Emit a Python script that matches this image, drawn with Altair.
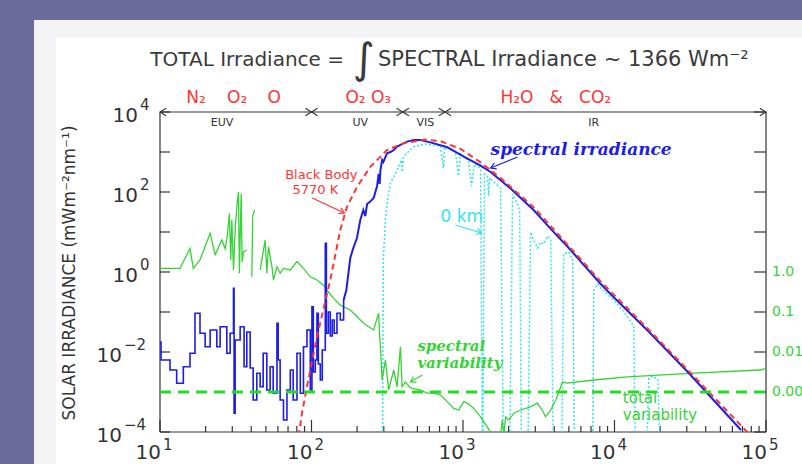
import altair as alt
import pandas as pd

# ---------------- data (log10 units) ----------------
# spectral irradiance, EUV part (drawn as steps)
blue_euv_lwl = [1.000, 1.007, 1.066, 1.110, 1.154, 1.198, 1.231, 1.264, 1.298, 1.331, 1.375, 1.397,
                1.441, 1.463, 1.485, 1.489, 1.496, 1.529, 1.555, 1.573, 1.595, 1.615, 1.639, 1.661,
                1.681, 1.705, 1.727, 1.747, 1.772, 1.780, 1.793, 1.815, 1.838, 1.860, 1.879, 1.904,
                1.926, 1.947, 1.970, 1.992, 2.003, 2.012, 2.025, 2.036, 2.045, 2.058, 2.071, 2.091,
                2.098, 2.111, 2.124, 2.137, 2.150, 2.168, 2.190, 2.212]
blue_euv_lirr = [-1.75, -2.2, -2.45, -2.78, -2.37, -2.03, -1.03, -1.53, -1.87, -1.45, -1.87, -1.37,
                 -2.03, -1.53, -0.41, -3.53, -1.7, -1.37, -2.37, -1.5, -2.4, -3.2, -2.53, -2.87,
                 -2.03, -2.95, -2.37, -3.03, -1.28, -2.2, -3.2, -3.7, -2.95, -2.45, -3.2, -2.03,
                 -3.03, -1.87, -1.45, -2.95, -0.87, -2.5, -2.2, -1.03, -2.3, -2.7, -1.95, 0.72,
                 -1.53, -1.0, -1.6, -1.2, -1.53, -1.03, -1.2, -0.7]
# spectral irradiance, UV to IR
blue_lwl = [2.212, 2.230, 2.256, 2.276, 2.300, 2.322, 2.342, 2.355, 2.367, 2.388, 2.410, 2.433,
            2.443, 2.450, 2.455, 2.466, 2.474, 2.499, 2.521, 2.543, 2.560, 2.587, 2.631, 2.675,
            2.719, 2.785, 2.896, 3.017, 3.116, 3.182, 3.314, 3.466, 3.579, 3.691, 3.909, 3.995,
            4.220, 4.484, 4.835]
blue_lirr = [-0.7, -0.45, 0.35, 0.6, 0.85, 1.3, 1.55, 1.4, 1.7, 1.76, 1.85, 2.15,
             2.45, 2.2, 2.55, 2.8, 2.75, 2.97, 3.0, 3.05, 3.12, 3.18, 3.26, 3.3,
             3.3, 3.24, 3.12, 2.86, 2.66, 2.5, 2.09, 1.55, 1.08, 0.63, -0.3, -0.63,
             -1.47, -2.5, -3.95]
# black body 5770 K
bb_lwl = [1.899, 1.919, 1.937, 1.970, 2.036, 2.124, 2.190, 2.234, 2.301, 2.388, 2.499, 2.607,
          2.752, 2.851, 2.983, 3.116, 3.248, 3.466, 3.691, 3.909, 4.220, 4.484, 4.901]
bb_lirr = [-4.6, -4.0, -3.53, -2.87, -1.62, -0.2, 1.05, 1.63, 2.13, 2.63, 3.05, 3.22,
           3.31, 3.27, 3.08, 2.74, 2.35, 1.62, 0.68, -0.24, -1.42, -2.45, -4.1]
# 0 km (ground level) spectrum
km0_lwl = [2.468, 2.474, 2.488, 2.499, 2.521, 2.565, 2.593, 2.600, 2.607, 2.673, 2.752, 2.851,
           2.871, 2.878, 2.950, 2.970, 2.983, 3.036, 3.056, 3.076, 3.116, 3.129, 3.142, 3.162,
           3.169, 3.175, 3.248, 3.268, 3.307, 3.327, 3.360, 3.374, 3.387, 3.427, 3.446, 3.466,
           3.493, 3.512, 3.532, 3.559, 3.579, 3.598, 3.651, 3.665, 3.698, 3.724, 3.737, 3.856,
           3.863, 3.889, 3.909, 3.995, 4.074, 4.127, 4.140, 4.207, 4.227, 4.253, 4.286, 4.306]
km0_lirr = [-5, 0.3, 1.3, 1.72, 2.22, 2.55, 2.8, 2.5, 2.88, 3.13, 3.2, 3.15,
            2.6, 3.12, 3.0, 2.4, 2.95, 2.8, 2.15, 2.7, 2.6, -5, 2.45, 2.4,
            1.9, 2.35, 2.1, -5, -5, 1.95, 1.7, 1.5, -5, -5, 1.0, 0.8,
            0.6, 0.75, 0.7, 0.9, 0.8, -5, -5, 0.45, 0.5, 0.3, -5, -5,
            -0.45, -0.3, -0.4, -0.7, -1.05, -1.35, -5, -5, -2.65, -2.6, -2.7, -5]
# spectral variability (three pieces)
var1_lwl = [1.000, 1.132, 1.198, 1.220, 1.264, 1.331, 1.364, 1.408, 1.430, 1.445, 1.458, 1.467,
            1.474, 1.485, 1.496, 1.511, 1.518, 1.524, 1.530, 1.536, 1.542, 1.551, 1.573]
var1_lirr = [0.09, 0.09, 0.59, 0.09, 0.3, 0.97, 0.43, 0.8, 0.58, 0.93, 1.47, 0.3,
             1.3, 0.05, 1.05, 1.8, 2.0, -0.03, 1.0, 1.95, 0.25, 0.5, 0.55]
var2_lwl = [1.606, 1.612, 1.625]
var2_lirr = [-0.12, 1.4, 1.55]
var3_lwl = [1.661, 1.694, 1.705, 1.716, 1.739, 1.749, 1.772, 1.793, 1.815, 1.860, 1.904, 1.947,
            1.992, 2.036, 2.080, 2.102, 2.146, 2.190, 2.256, 2.278, 2.344, 2.410, 2.443, 2.450,
            2.455, 2.466, 2.488, 2.509, 2.543, 2.565, 2.587, 2.598, 2.620, 2.653, 2.719, 2.763,
            2.807, 2.851, 2.896, 2.939, 2.972, 3.005, 3.038, 3.071, 3.116, 3.160, 3.193, 3.226,
            3.248, 3.259, 3.270, 3.281, 3.303, 3.336, 3.380, 3.446, 3.490, 3.523, 3.545, 3.579,
            3.612, 3.633, 3.656, 3.689, 3.863, 4.085, 4.524, 4.967, 5.0]
var3_lirr = [0.05, 0.8, -0.03, 0.63, 0.13, -0.2, 0.13, -0.03, 0.09, 0.05, 0.26, 0.09,
             -0.12, -0.2, -0.33, -0.45, -0.66, -0.83, -0.95, -1.03, -1.28, -1.45, -1.03, -1.6,
             -1.87, -2.7, -2.2, -2.95, -2.45, -2.87, -1.87, -2.87, -2.75, -2.9, -2.95, -3.03,
             -3.03, -3.07, -3.24, -3.41, -3.45, -3.24, -3.3, -3.41, -3.62, -3.87, -4.08, -4.05,
             -4.1, -3.7, -4.05, -3.62, -3.7, -3.53, -3.45, -3.37, -3.28, -3.45, -3.62, -3.45,
             -3.2, -3.0, -2.75, -2.78, -2.7, -2.62, -2.53, -2.45, -2.4]
total_var_wl = [10, 100000]
total_var_irr = [1e-3, 1e-3]

band_edges = [10, 100, 400, 760, 100000]
band_names = ["EUV", "UV", "VIS", "IR"]
band_label_wl = [25.7, 210, 565, 7290]
NB = "\u00a0"
species = ["N\u2082", "O\u2082", "O", "O\u2082 O\u2083", "H\u2082O" + NB * 3 + "&" + NB * 3 + "CO\u2082"]
species_wl = [17.3, 32.3, 56.8, 237, 4094]

x_decades = [10, 100, 1000, 10000, 100000]
x_exps = ["1", "2", "3", "4", "5"]
y_pos_vals = [1e4, 1e2, 1e0]
y_pos_exps = ["4", "2", "0"]
y_neg_vals = [1e-2, 1e-4]
y_neg_exps = ["\u22122", "\u22124"]
y_decades = [1e-4, 1e-3, 1e-2, 1e-1, 1e0, 1e1, 1e2, 1e3, 1e4]
right_vals = [1.0, 0.1, 0.01, 0.001]
right_labels = ["1.0", "0.1", "0.01", "0.001"]

# ---------------- styling ----------------
W, H = 606, 320
BLUE = "#1d1de8"
RED = "#ff3434"
CYAN = "#33e2f0"
GREEN = "#35d335"
DARK = "#333333"
FONT = "DejaVu Sans"
SERIF = "DejaVu Serif"

xs = alt.Scale(type="log", domain=[10, 100000], nice=False)
ys = alt.Scale(type="log", domain=[1e-4, 1e4], nice=False)
X = alt.X("wl:Q", scale=xs, axis=None)
Y = alt.Y("irr:Q", scale=ys, axis=None)
one = pd.DataFrame({"a": [0]})


def series(lwl, lirr, seg=0):
    d = pd.DataFrame({"wl": [10.0 ** v for v in lwl], "irr": [10.0 ** v for v in lirr]})
    d["i"] = range(len(d))
    d["seg"] = seg
    return d


def line(d, **mk):
    return alt.Chart(d).mark_line(clip=True, **mk).encode(x=X, y=Y, order="i:Q", detail="seg:N")


def dtext(wl, irr, text, **mk):
    d = pd.DataFrame({"wl": [wl], "irr": [irr], "t": [text]})
    return alt.Chart(d).mark_text(**mk).encode(x=X, y=Y, text="t:N")


def ptext(px, py, text, **mk):
    return alt.Chart(one).mark_text(text=text, **mk).encode(x=alt.value(px), y=alt.value(py))


def arrow(wl1, irr1, wl2, irr2, ang, color):
    d = pd.DataFrame({"wl": [wl1], "irr": [irr1], "wl2": [wl2], "irr2": [irr2]})
    r = alt.Chart(d).mark_rule(color=color, strokeWidth=1.2).encode(
        x=X, y=Y, x2="wl2:Q", y2="irr2:Q")
    h = alt.Chart(d).mark_point(shape="M-1,-0.6L0,0L-1,0.6", filled=False, size=110,
                                color=color, strokeWidth=1.2, opacity=1).encode(
        x=alt.X("wl2:Q", scale=xs, axis=None), y=alt.Y("irr2:Q", scale=ys, axis=None),
        angle=alt.value(ang))
    return r + h


def frame_rule(**enc):
    return alt.Chart(one).mark_rule(color=DARK, strokeWidth=1.2).encode(**enc)


layers = []
# page panels
layers.append(alt.Chart(one).mark_rect(color="#f4f4f6").encode(
    x=alt.value(34 - 160), x2=alt.value(W + 60), y=alt.value(20 - 112), y2=alt.value(H + 60)))
layers.append(alt.Chart(one).mark_rect(color="#ffffff").encode(
    x=alt.value(56 - 160), x2=alt.value(W + 60), y=alt.value(38 - 112), y2=alt.value(H + 60)))

# plot frame
layers.append(frame_rule(x=alt.value(0), x2=alt.value(W), y=alt.value(0)))
layers.append(frame_rule(x=alt.value(0), x2=alt.value(W), y=alt.value(H)))
layers.append(frame_rule(y=alt.value(0), y2=alt.value(H), x=alt.value(0)))
layers.append(frame_rule(y=alt.value(0), y2=alt.value(H), x=alt.value(W)))

# ticks
dec_df = pd.DataFrame({"irr": y_decades})
layers.append(alt.Chart(dec_df).mark_rule(color=DARK, strokeWidth=1.2).encode(
    y=Y, x=alt.value(0), x2=alt.value(10)))
layers.append(alt.Chart(dec_df).mark_rule(color=DARK, strokeWidth=1.2).encode(
    y=Y, x=alt.value(W - 12), x2=alt.value(W)))
minor = [m * d for d in x_decades[:-1] for m in range(2, 10)]
layers.append(alt.Chart(pd.DataFrame({"wl": minor})).mark_rule(color=DARK, strokeWidth=1.2).encode(
    x=X, y=alt.value(H - 6), y2=alt.value(H)))
layers.append(alt.Chart(pd.DataFrame({"wl": x_decades})).mark_rule(color=DARK, strokeWidth=1.2).encode(
    x=X, y=alt.value(H - 12), y2=alt.value(H)))

# curves
layers.append(line(series(km0_lwl, km0_lirr), color=CYAN, strokeWidth=1.5, strokeDash=[2, 2]))
green = pd.concat([series(var1_lwl, var1_lirr, 1), series(var2_lwl, var2_lirr, 2),
                   series(var3_lwl, var3_lirr, 3)], ignore_index=True)
layers.append(line(green, color=GREEN, strokeWidth=1.3))
layers.append(line(series(blue_euv_lwl, blue_euv_lirr), color=BLUE, strokeWidth=1.6,
                   interpolate="step-after"))
layers.append(line(series(blue_lwl, blue_lirr), color=BLUE, strokeWidth=2))
layers.append(line(series(bb_lwl, bb_lirr), color=RED, strokeWidth=2, strokeDash=[6, 4]))
tv = pd.DataFrame({"wl": total_var_wl, "irr": total_var_irr, "i": [0, 1], "seg": [0, 0]})
layers.append(line(tv, color="#22dd22", strokeWidth=3, strokeDash=[11, 7]))

# top band arrows
layers.append(alt.Chart(pd.DataFrame({"wl": band_edges[1:]})).mark_point(
    shape="M-1,-0.6L0,0L-1,0.6", filled=False, size=150, color=DARK, strokeWidth=1.1, opacity=1).encode(
    x=X, y=alt.value(0), angle=alt.value(0)))
layers.append(alt.Chart(pd.DataFrame({"wl": band_edges[:-1]})).mark_point(
    shape="M-1,-0.6L0,0L-1,0.6", filled=False, size=150, color=DARK, strokeWidth=1.1, opacity=1).encode(
    x=X, y=alt.value(0), angle=alt.value(180)))
layers.append(alt.Chart(pd.DataFrame({"wl": band_label_wl, "t": band_names})).mark_text(
    font=FONT, fontSize=11, color=DARK, baseline="middle").encode(x=X, y=alt.value(11), text="t:N"))
layers.append(alt.Chart(pd.DataFrame({"wl": species_wl, "t": species})).mark_text(
    font=FONT, fontSize=17, color=RED, baseline="alphabetic").encode(x=X, y=alt.value(-9), text="t:N"))

# x tick labels
xl = pd.DataFrame({"wl": x_decades, "e": x_exps})
layers.append(alt.Chart(xl).mark_text(text="10", font=FONT, fontSize=20, color=DARK, align="right",
                                      baseline="alphabetic", dx=1).encode(x=X, y=alt.value(H + 27)))
layers.append(alt.Chart(xl).mark_text(font=FONT, fontSize=15, color=DARK, align="left",
                                      baseline="alphabetic", dx=3).encode(x=X, y=alt.value(H + 18), text="e:N"))
# y tick labels
yp = pd.DataFrame({"irr": y_pos_vals, "e": y_pos_exps})
yn = pd.DataFrame({"irr": y_neg_vals, "e": y_neg_exps})
layers.append(alt.Chart(yp).mark_text(text="10", font=FONT, fontSize=20, color=DARK, align="right",
                                      baseline="middle", dy=4).encode(y=Y, x=alt.value(-22)))
layers.append(alt.Chart(yp).mark_text(font=FONT, fontSize=15, color=DARK, align="left",
                                      baseline="middle", dy=-7).encode(y=Y, x=alt.value(-20), text="e:N"))
layers.append(alt.Chart(yn).mark_text(text="10", font=FONT, fontSize=20, color=DARK, align="right",
                                      baseline="middle", dy=4).encode(y=Y, x=alt.value(-38)))
layers.append(alt.Chart(yn).mark_text(font=FONT, fontSize=15, color=DARK, align="left",
                                      baseline="middle", dy=-7).encode(y=Y, x=alt.value(-36), text="e:N"))
# right axis labels (cut by the page edge, as in the original)
layers.append(alt.Chart(pd.DataFrame({"irr": right_vals, "t": right_labels})).mark_text(
    font=FONT, fontSize=14, color=GREEN, align="left", baseline="middle").encode(
    y=Y, x=alt.value(W + 6), text="t:N"))

# axis title and chart title
layers.append(ptext(-90, 161, "SOLAR IRRADIANCE (mWm\u207b\u00b2nm\u207b\u00b9)", font=FONT, fontSize=17,
                    color=DARK, angle=270, align="center", baseline="middle"))
layers.append(ptext(184, -46, "TOTAL Irradiance =", font=FONT, fontSize=20, color="#3a3a3a", align="right",
                    baseline="alphabetic"))
layers.append(ptext(204, -52, "\u222b", font=FONT, fontSize=42, color="#3a3a3a", align="center",
                    baseline="middle"))
layers.append(ptext(218, -46, "SPECTRAL Irradiance ~ 1366 Wm\u207b\u00b2", font=FONT, fontSize=21,
                    color="#3a3a3a", align="left", baseline="alphabetic"))

# annotations
layers.append(dtext(116, 211, "Black Body", font=FONT, fontSize=13, color=RED, align="center",
                    baseline="alphabetic"))
layers.append(dtext(106, 89, "5770 K", font=FONT, fontSize=13, color=RED, align="center",
                    baseline="alphabetic"))
layers.append(arrow(101.2, 70.8, 164.8, 29.9, 25, RED))
layers.append(dtext(1521, 841, "spectral irradiance", font=SERIF, fontSize=17, fontStyle="italic",
                    fontWeight="bold", color=BLUE, align="left", baseline="alphabetic"))
layers.append(arrow(2291, 750, 1521, 398, 158, BLUE))
layers.append(dtext(710, 17.8, "0 km", font=FONT, fontSize=17, color=CYAN, align="left",
                    baseline="alphabetic"))
layers.append(arrow(891, 15.0, 1324, 9.44, 17, CYAN))
layers.append(dtext(500, 0.0106, "spectral", font=SERIF, fontSize=15, fontStyle="italic",
                    fontWeight="bold", color=GREEN, align="left", baseline="alphabetic"))
layers.append(dtext(500, 0.00398, "variability", font=SERIF, fontSize=15, fontStyle="italic",
                    fontWeight="bold", color=GREEN, align="left", baseline="alphabetic"))
layers.append(arrow(540, 0.00266, 450, 0.00178, 150, GREEN))
layers.append(dtext(11350, 5.3e-4, "total", font=FONT, fontSize=15, color=GREEN, align="left",
                    baseline="alphabetic"))
layers.append(dtext(11350, 2.0e-4, "variability", font=FONT, fontSize=15, color=GREEN, align="left",
                    baseline="alphabetic"))

chart = alt.layer(*layers).properties(
    width=W, height=H,
    padding={"left": 160, "top": 112, "right": 36, "bottom": 32},
    autosize=alt.AutoSizeParams(type="none"),
).configure(background="#6c6c9c").configure_view(stroke="transparent")

chart.save("out.html", embed_options={"renderer": "svg", "actions": False})
